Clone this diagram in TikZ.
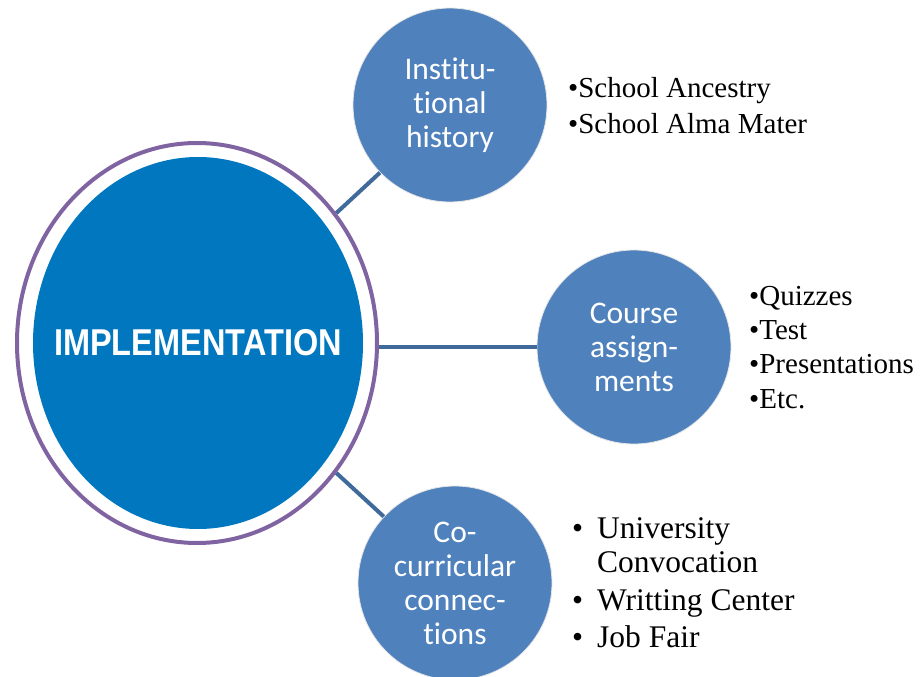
\documentclass[tikz,border=0pt]{standalone}
\usepackage{fontspec}
\usepackage{graphicx}
\setmainfont{Liberation Serif}
\newfontfamily\labelfont[Ligatures=NoCommon]{Carlito}
\newfontfamily\headfont{Liberation Sans}
\usetikzlibrary{shapes.geometric}

\definecolor{coreblue}{HTML}{0077BF}
\definecolor{ringpurple}{HTML}{8064A2}
\definecolor{topicblue}{HTML}{4F81BD}
\definecolor{linkblue}{HTML}{3F6A9A}

\tikzset{
  topic/.style={circle, fill=topicblue, draw=gray!20, line width=0.8pt,
    minimum size=194pt, inner sep=0pt, text=white, align=center,
    font=\labelfont\fontsize{31.5}{34}\selectfont},
  link/.style={draw=linkblue, line width=4pt},
  item/.style={anchor=base west, inner sep=0pt, text=black,
    font=\fontsize{29}{34}\selectfont},
  bigitem/.style={anchor=base west, inner sep=0pt, text=black,
    font=\fontsize{31.5}{36}\selectfont},
}

\begin{document}
\begin{tikzpicture}[x=1pt,y=-1pt]
\useasboundingbox (0,0) rectangle (922,677);

% central ellipse with its purple ring
\node[ellipse, draw=ringpurple, line width=4pt, minimum width=360pt,
      minimum height=400pt, inner sep=0pt] (ring) at (197,343) {};
\node[ellipse, fill=coreblue, minimum width=330pt, minimum height=372pt,
      inner sep=0pt] (core) at (198,343) {};
\node[text=white, inner sep=0pt,
      font=\headfont\bfseries\fontsize{32.5}{36}\selectfont] (corelabel)
      at (core.center) {\scalebox{1}[1.15]{IMPLEMENTATION}};

% the three topics
\node[topic] (inst) at (450,105) {Institu-\\tional\\history};
\node[topic] (course) at (634,347) {Course\\assign-\\ments};
\node[topic] (cocur) at (455,583) {Co-\\curricular\\connec-\\tions};

% links from the centre to the topics
\draw[link] (ring.43) -- (inst.224);
\draw[link] (course.west -| ring.east) -- (course.west);
\draw[link] (ring.-43) -- (cocur.137);

% details of each topic
\node[item] (ia) at (568,98)  {\textbullet School Ancestry};
\node[item] (ib) at (568,133) {\textbullet School Alma Mater};

\node[item] (ca) at (749,305) {\textbullet Quizzes};
\node[item] (cb) at (749,339) {\textbullet Test};
\node[item] (cc) at (749,373) {\textbullet Presentations};
\node[item] (cd) at (749,408) {\textbullet Etc.};

\node[bigitem] (ba) at (572,538) {\textbullet};
\node[bigitem] (bat) at (597,538) {University};
\node[bigitem] (bau) at (597,572) {Convocation};
\node[bigitem] (bb) at (572,610) {\textbullet};
\node[bigitem] (bbt) at (597,610) {Writting Center};
\node[bigitem] (bc) at (572,647) {\textbullet};
\node[bigitem] (bct) at (597,647) {Job Fair};
\end{tikzpicture}
\end{document}
